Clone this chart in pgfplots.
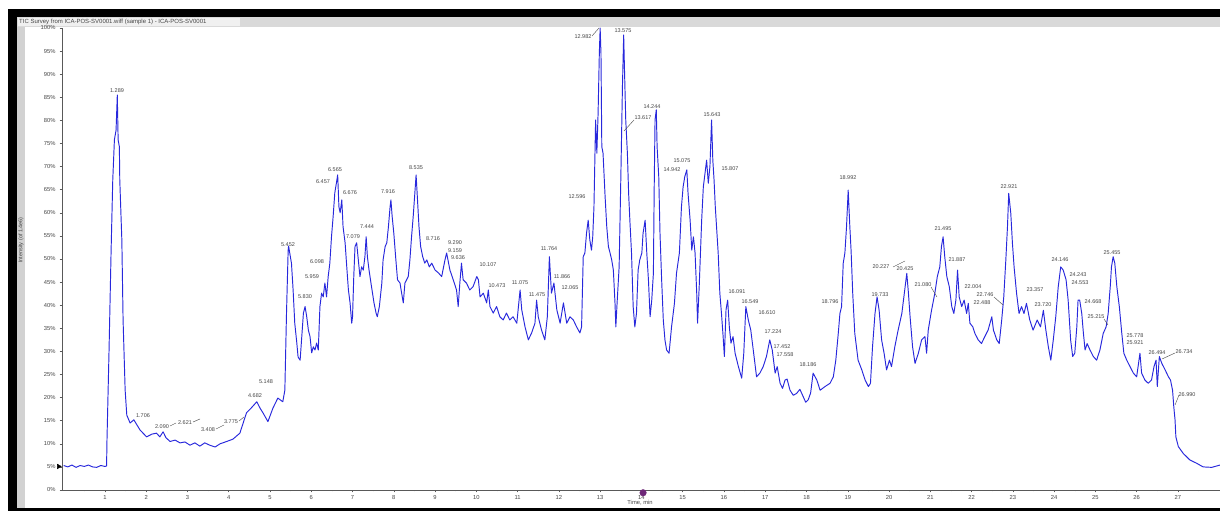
\documentclass[border=0pt]{standalone}
\usepackage{fontspec}
\setmainfont{Liberation Sans}
\usepackage{pgfplots}
\pgfplotsset{compat=1.18}
\definecolor{trace}{RGB}{40,40,220}
\definecolor{labtxt}{RGB}{70,70,70}
\definecolor{dotpurple}{RGB}{110,40,120}
\begin{document}
\begin{tikzpicture}[x=1pt,y=1pt]
\fill[white] (0,0) rectangle (1220,511);
\fill[black] (8,0) rectangle (17,502);
\fill[black] (8,494) rectangle (1220,502);
\fill[black] (8,0) rectangle (1220,3);
\fill[gray!35] (17,3) rectangle (25,494);
\fill[gray!30] (17,484) rectangle (1220,494);
\fill[gray!12] (18,485) rectangle (240,493);
\node[anchor=west, font=\fontsize{6}{7}\selectfont, text=labtxt, inner sep=0] at (19,489) {TIC Survey from ICA-POS-SV0001.wiff (sample 1) - ICA-POS-SV0001};
\node[rotate=90, font=\fontsize{5.5}{6}\selectfont, text=labtxt] at (21,271) {Intensity (of 1.4e6)};
\begin{axis}[
  at={(62pt,21pt)}, anchor=south west, scale only axis,
  width=1158pt, height=462pt,
  xmin=-0.04, xmax=28.02, ymin=0, ymax=100,
  axis lines=left, axis line style={-, gray!70!black, line width=0.7pt},
  clip=false,
  /pgf/number format/assume math mode=true,
  xtick={1,...,27}, minor xtick={0.5,1.5,...,27.5},
  ytick={0,5,...,100},
  yticklabel={\pgfmathprintnumber{\tick}\%},
  tick align=outside,
  major tick length=2.5pt, minor tick length=1.5pt,
  tick style={gray!70!black, line width=0.5pt},
  ticklabel style={font=\fontsize{5.8}{6}\selectfont, text=labtxt},
  xticklabel style={yshift=1pt},
  yticklabel style={xshift=-0.5pt},
]
\addplot[trace, line width=0.95pt, line join=round] table {
t v
0.00 5.3
0.10 5.0
0.20 5.4
0.30 4.9
0.40 5.3
0.50 5.1
0.60 5.4
0.70 5.0
0.80 4.9
0.90 5.3
1.00 5.1
1.04 5.2
1.05 10.8
1.10 30.3
1.15 51.9
1.19 67.1
1.23 75.8
1.27 77.9
1.30 85.5
1.32 75.8
1.35 74.3
1.36 67.1
1.41 54.1
1.44 36.8
1.49 21.6
1.53 16.2
1.61 14.5
1.70 15.2
1.85 13.0
2.01 11.5
2.14 12.1
2.25 12.3
2.33 11.5
2.41 12.6
2.48 11.3
2.58 10.5
2.70 10.8
2.82 10.2
2.94 10.4
3.06 9.7
3.18 10.2
3.30 9.5
3.42 10.2
3.54 9.7
3.67 9.3
3.79 10.0
3.95 10.5
4.10 11.0
4.27 12.3
4.43 16.7
4.54 17.7
4.68 19.1
4.76 17.7
4.83 16.7
4.95 14.8
5.07 17.7
5.19 19.9
5.31 19.1
5.36 21.6
5.40 38.3
5.44 51.9
5.45 52.8
5.52 49.1
5.56 43.3
5.60 36.1
5.65 31.8
5.68 28.8
5.73 28.1
5.77 33.2
5.81 38.3
5.85 39.7
5.89 37.5
5.93 34.6
5.97 33.2
6.01 29.7
6.05 31.0
6.09 30.3
6.13 31.8
6.17 30.3
6.21 39.7
6.25 42.6
6.29 41.8
6.33 44.8
6.37 41.8
6.41 46.2
6.45 49.1
6.49 54.8
6.53 59.2
6.57 64.3
6.61 66.5
6.64 68.2
6.67 61.3
6.70 60.0
6.74 62.8
6.77 57.0
6.82 53.5
6.86 48.3
6.90 43.3
6.94 40.5
6.98 36.1
7.00 37.5
7.03 46.2
7.06 52.7
7.10 53.5
7.14 49.8
7.18 46.2
7.22 48.3
7.26 47.6
7.30 50.5
7.33 54.8
7.36 50.5
7.40 47.6
7.46 44.0
7.52 40.5
7.57 38.3
7.60 37.5
7.65 39.7
7.71 44.8
7.74 49.8
7.79 52.7
7.83 53.5
7.87 57.0
7.91 61.3
7.93 62.8
7.96 59.2
8.00 55.6
8.05 49.8
8.09 45.5
8.15 44.8
8.19 42.6
8.23 40.5
8.27 44.8
8.31 45.5
8.35 46.2
8.39 49.8
8.43 54.8
8.47 59.2
8.51 64.3
8.54 68.2
8.57 63.5
8.61 57.0
8.65 52.7
8.70 50.5
8.75 49.1
8.80 49.8
8.86 48.3
8.92 49.1
9.00 47.6
9.08 47.0
9.16 46.2
9.24 49.8
9.28 51.3
9.36 47.6
9.44 45.5
9.52 43.3
9.56 39.7
9.60 44.8
9.64 49.1
9.68 45.5
9.76 44.8
9.84 43.3
9.92 44.0
10.01 46.2
10.05 45.5
10.09 41.8
10.17 42.6
10.25 40.5
10.29 43.3
10.33 39.7
10.41 38.3
10.49 39.7
10.57 37.5
10.65 36.8
10.73 38.3
10.81 36.8
10.89 37.5
10.98 36.1
11.06 43.3
11.10 39.0
11.18 35.3
11.26 32.5
11.34 34.0
11.42 36.1
11.46 41.1
11.50 37.5
11.58 34.6
11.66 32.5
11.72 37.5
11.77 50.5
11.82 42.6
11.88 44.8
11.95 39.0
12.03 36.1
12.11 40.5
12.19 36.1
12.27 37.5
12.35 36.8
12.43 35.3
12.51 34.0
12.55 35.3
12.59 50.5
12.63 51.3
12.67 55.6
12.71 58.4
12.75 54.1
12.79 51.9
12.82 54.8
12.85 61.3
12.89 80.1
12.92 72.9
12.95 81.5
12.98 94.5
13.00 100.0
13.02 94.5
13.04 74.3
13.07 72.9
13.12 63.5
13.16 57.0
13.20 52.7
13.24 51.3
13.28 49.8
13.32 47.6
13.36 40.4
13.38 35.3
13.41 40.4
13.46 48.3
13.50 67.1
13.52 77.2
13.54 87.3
13.57 98.5
13.59 90.9
13.62 80.1
13.66 72.9
13.69 64.2
13.72 58.4
13.76 51.3
13.80 39.7
13.84 35.3
13.88 38.2
13.92 47.6
13.96 49.8
14.01 51.3
14.04 55.6
14.09 58.4
14.13 51.3
14.17 45.5
14.21 37.5
14.25 41.1
14.29 46.9
14.31 65.6
14.33 80.1
14.36 82.3
14.38 74.3
14.42 67.8
14.45 55.6
14.49 45.5
14.53 36.8
14.57 32.5
14.61 30.3
14.67 29.6
14.73 35.3
14.80 40.4
14.85 46.9
14.92 51.3
14.97 61.3
15.01 65.6
15.05 67.8
15.10 69.3
15.13 64.2
15.18 58.4
15.22 51.9
15.26 54.8
15.30 51.3
15.34 42.6
15.36 36.1
15.40 44.0
15.46 58.4
15.50 65.6
15.54 68.5
15.58 71.4
15.62 66.4
15.66 70.0
15.70 80.1
15.73 71.4
15.76 67.1
15.79 61.3
15.82 57.0
15.86 51.3
15.90 42.6
15.94 38.2
15.98 33.2
16.01 28.9
16.05 39.0
16.09 41.1
16.13 35.3
16.17 31.8
16.22 33.2
16.27 29.6
16.35 26.7
16.43 24.2
16.48 29.6
16.53 39.7
16.59 36.8
16.65 34.6
16.71 30.3
16.79 24.5
16.87 25.3
16.95 26.7
17.03 28.9
17.11 32.5
17.17 30.3
17.24 25.3
17.29 26.7
17.36 23.1
17.42 22.0
17.48 23.8
17.53 24.0
17.60 21.6
17.68 20.5
17.76 20.9
17.84 21.8
17.92 20.2
17.98 19.0
18.04 19.5
18.10 21.0
18.16 25.3
18.25 23.8
18.33 21.6
18.45 22.4
18.57 23.1
18.65 24.5
18.71 28.1
18.77 33.9
18.81 38.2
18.85 39.7
18.89 49.1
18.93 51.3
18.97 57.0
19.01 64.9
19.05 57.0
19.08 51.9
19.12 42.6
19.17 33.9
19.25 28.1
19.34 26.0
19.42 23.8
19.50 22.4
19.55 23.1
19.60 31.0
19.66 38.2
19.71 41.8
19.76 38.9
19.82 32.5
19.88 29.6
19.94 26.0
20.01 28.1
20.06 26.7
20.14 31.0
20.22 34.6
20.31 38.2
20.39 44.0
20.43 46.9
20.47 42.6
20.51 37.5
20.57 31.0
20.63 27.4
20.71 29.6
20.79 32.5
20.87 33.2
20.91 29.6
20.95 34.6
21.03 38.9
21.11 42.6
21.17 46.2
21.23 48.3
21.27 52.7
21.31 54.8
21.35 50.5
21.40 46.2
21.46 44.0
21.52 39.7
21.57 38.2
21.62 41.1
21.66 47.6
21.70 41.8
21.76 39.7
21.82 41.1
21.88 38.2
21.92 40.4
21.96 36.1
22.03 35.3
22.08 33.9
22.16 32.5
22.24 31.7
22.32 33.2
22.40 34.6
22.49 37.5
22.53 34.6
22.61 32.5
22.67 31.7
22.73 36.8
22.78 41.8
22.83 49.8
22.87 57.0
22.90 64.2
22.95 59.9
22.99 53.4
23.03 48.3
23.09 42.6
23.15 38.2
23.21 39.7
23.27 38.2
23.33 40.4
23.41 36.8
23.49 34.6
23.59 36.8
23.67 35.3
23.74 38.9
23.80 34.6
23.86 31.0
23.92 28.1
23.98 32.5
24.04 37.5
24.10 44.0
24.16 48.3
24.22 47.6
24.29 45.5
24.34 41.1
24.40 32.5
24.45 28.9
24.50 29.6
24.55 35.3
24.58 41.1
24.62 41.1
24.67 38.2
24.71 33.9
24.75 30.3
24.80 31.7
24.87 30.3
24.95 28.9
25.03 28.1
25.11 30.3
25.19 33.9
25.26 35.3
25.31 38.2
25.36 44.0
25.39 48.3
25.43 50.5
25.47 49.1
25.52 44.0
25.58 39.7
25.64 33.9
25.69 29.6
25.76 28.1
25.84 26.7
25.92 25.3
26.00 24.5
26.08 29.6
26.12 25.3
26.20 23.8
26.28 23.1
26.36 23.8
26.42 26.7
26.47 28.1
26.50 22.4
26.55 28.9
26.61 27.4
26.69 26.0
26.77 24.5
26.82 23.8
26.87 21.6
26.90 18.0
26.93 15.2
26.95 11.5
27.01 9.4
27.13 7.9
27.29 6.5
27.45 5.8
27.61 5.0
27.82 4.9
28.02 5.4
};
\addplot[only marks, mark=triangle*, mark size=2.6pt, mark options={rotate=-90, fill=black, draw=black}] coordinates {(-0.12,5.1)};
\addplot[only marks, mark=*, mark size=3.3pt, mark options={fill=dotpurple, draw=dotpurple}] coordinates {(14.04,-0.6)};
\end{axis}
\node[font=\fontsize{5.8}{6}\selectfont, text=labtxt] at (640,8) {Time, min};
\begin{scope}[every node/.style={font=\fontsize{5.5}{6}\selectfont, text=labtxt, inner sep=0.3pt}]
\node at (117,420) {1.289};
\node at (143,95) {1.706};
\node at (162,84) {2.090};
\node at (185,88) {2.621};
\node at (208,81) {3.408};
\node at (231,89) {3.775};
\node at (255,115) {4.682};
\node at (266,129) {5.148};
\node at (288,266) {5.452};
\node at (305,214) {5.830};
\node at (312,234) {5.959};
\node at (317,249) {6.098};
\node at (323,329) {6.457};
\node at (335,341) {6.565};
\node at (350,318) {6.676};
\node at (353,274) {7.079};
\node at (367,284) {7.444};
\node at (388,319) {7.916};
\node at (416,343) {8.535};
\node at (433,272) {8.716};
\node at (455,268) {9.290};
\node at (455,260) {9.159};
\node at (458,253) {9.636};
\node at (488,246) {10.107};
\node at (497,225) {10.473};
\node at (520,228) {11.075};
\node at (537,216) {11.475};
\node at (549,262) {11.764};
\node at (562,234) {11.866};
\node at (570,223) {12.065};
\node at (577,314) {12.596};
\node at (583,474) {12.982};
\node at (623,480) {13.575};
\node at (643,393) {13.617};
\node at (652,404) {14.244};
\node at (672,341) {14.942};
\node at (682,350) {15.075};
\node at (712,396) {15.643};
\node at (730,342) {15.807};
\node at (737,219) {16.091};
\node at (750,209) {16.549};
\node at (767,198) {16.610};
\node at (773,179) {17.224};
\node at (782,164) {17.452};
\node at (785,156) {17.558};
\node at (808,146) {18.186};
\node at (830,209) {18.796};
\node at (848,333) {18.992};
\node at (880,216) {19.733};
\node at (881,244) {20.227};
\node at (905,242) {20.425};
\node at (923,226) {21.080};
\node at (943,282) {21.495};
\node at (957,251) {21.887};
\node at (973,224) {22.004};
\node at (985,216) {22.746};
\node at (982,208) {22.488};
\node at (1009,324) {22.921};
\node at (1035,221) {23.357};
\node at (1043,206) {23.720};
\node at (1060,251) {24.146};
\node at (1078,236) {24.243};
\node at (1080,228) {24.553};
\node at (1093,209) {24.668};
\node at (1096,194) {25.215};
\node at (1112,258) {25.455};
\node at (1135,175) {25.778};
\node at (1135,168) {25.921};
\node at (1157,158) {26.494};
\node at (1184,159) {26.734};
\node at (1187,116) {26.990};
\end{scope}
\begin{scope}[labtxt, line width=0.4pt]
\draw (592,475) -- (599,483);
\draw (634,391) -- (624,380);
\draw (170,85) -- (176,88);
\draw (193,89) -- (200,92);
\draw (216,82) -- (224,86);
\draw (239,90) -- (244,94);
\draw (893,244) -- (905,250);
\draw (931,224) -- (937,214);
\draw (994,214) -- (1003,206);
\draw (1104,192) -- (1108,186);
\draw (1175,158) -- (1162,152);
\draw (1179,116) -- (1175,106);
\end{scope}
\pgfresetboundingbox
\path[use as bounding box] (0,0) rectangle (1220,511);
\end{tikzpicture}
\end{document}
